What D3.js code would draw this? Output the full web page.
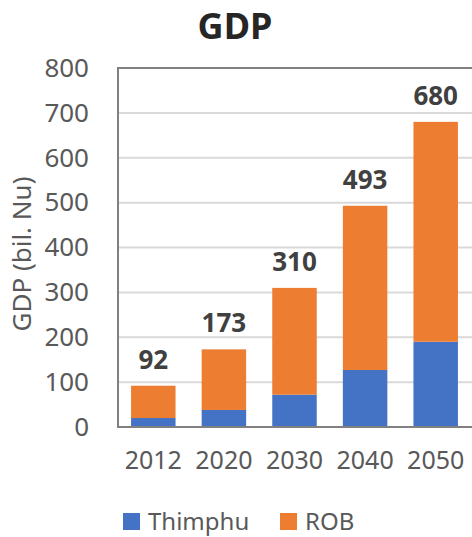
<!DOCTYPE html>
<html>
<head>
<meta charset="utf-8">
<script src="https://cdn.jsdelivr.net/npm/d3@7"></script>
<style>
  html, body { margin: 0; padding: 0; background: #fff; }
  svg { display: block; }
</style>
</head>
<body>
<svg id="chart" width="472" height="537"></svg>
<script>
// GDP by year, split into Thimphu and the rest of Bhutan (ROB), billions of Nu
const years = ["2012", "2020", "2030", "2040", "2050"];
const thimphu = [20, 38, 72, 127, 190];
const rob = [72, 135, 238, 366, 490];
const totals = [92, 173, 310, 493, 680];
const yTicks = [0, 100, 200, 300, 400, 500, 600, 700, 800];
const seriesNames = ["Thimphu", "ROB"];
const colors = ["#4472C4", "#ED7D31"];

const svg = d3.select("#chart");
const font = "'Noto Sans', 'Open Sans', sans-serif";

const plot = { left: 118, right: 471, top: 68, bottom: 427 };

const x = d3.scaleBand()
  .domain(years)
  .range([plot.left, plot.right])
  .paddingInner(0.37)
  .paddingOuter(0.185);

const y = d3.scaleLinear()
  .domain([0, 800])
  .range([plot.bottom, plot.top]);

// gridlines
svg.append("g")
  .selectAll("line")
  .data(yTicks.filter(t => t > 0 && t < 800))
  .join("line")
  .attr("x1", plot.left)
  .attr("x2", plot.right + 2)
  .attr("y1", d => y(d))
  .attr("y2", d => y(d))
  .attr("stroke", "#d9d9d9")
  .attr("stroke-width", 2);

// stacked bars
const rows = years.map((yr, i) => ({ year: yr, Thimphu: thimphu[i], ROB: rob[i] }));
const stack = d3.stack().keys(seriesNames)(rows);

svg.append("g")
  .selectAll("g")
  .data(stack)
  .join("g")
  .attr("fill", (d, i) => colors[i])
  .selectAll("rect")
  .data(d => d)
  .join("rect")
  .attr("x", d => x(d.data.year))
  .attr("width", x.bandwidth())
  .attr("y", d => y(d[1]))
  .attr("height", d => y(d[0]) - y(d[1]));

// frame (left, top, bottom)
svg.append("path")
  .attr("d", `M${plot.right + 3},${plot.top} H${plot.left} V${plot.bottom} H${plot.right + 3}`)
  .attr("fill", "none")
  .attr("stroke", "#808080")
  .attr("stroke-width", 2);

// total value labels
svg.append("g")
  .selectAll("text")
  .data(years)
  .join("text")
  .attr("x", d => x(d) + x.bandwidth() / 2)
  .attr("y", (d, i) => y(totals[i]) - 17)
  .attr("text-anchor", "middle")
  .attr("font-family", font)
  .attr("font-weight", "bold")
  .attr("font-size", 26)
  .attr("fill", "#404040")
  .text((d, i) => totals[i]);

// y axis
const yAxis = svg.append("g")
  .attr("transform", `translate(${plot.left},0)`)
  .call(d3.axisLeft(y).tickValues(yTicks).tickSize(0).tickPadding(29));
yAxis.select(".domain").remove();
yAxis.selectAll("text")
  .attr("font-family", font)
  .attr("font-size", 26)
  .attr("fill", "#595959");

// x axis
const xAxis = svg.append("g")
  .attr("transform", `translate(0,${plot.bottom})`)
  .call(d3.axisBottom(x).tickSize(0).tickPadding(24));
xAxis.select(".domain").remove();
xAxis.selectAll("text")
  .attr("font-family", font)
  .attr("font-size", 25)
  .attr("fill", "#595959");

// title
svg.append("text")
  .attr("x", 235)
  .attr("y", 39)
  .attr("text-anchor", "middle")
  .attr("font-family", font)
  .attr("font-weight", "bold")
  .attr("font-size", 36)
  .attr("fill", "#262626")
  .text("GDP");

// y axis title
svg.append("text")
  .attr("transform", `translate(31,254) rotate(-90)`)
  .attr("text-anchor", "middle")
  .attr("font-family", font)
  .attr("font-size", 26)
  .attr("fill", "#595959")
  .text("GDP (bil. Nu)");

// legend
const legendX = [123, 280];
const legend = svg.append("g")
  .selectAll("g")
  .data(seriesNames)
  .join("g")
  .attr("transform", (d, i) => `translate(${legendX[i]},513)`);
legend.append("rect")
  .attr("width", 17)
  .attr("height", 17)
  .attr("fill", (d, i) => colors[i]);
legend.append("text")
  .attr("x", 25)
  .attr("y", 17)
  .attr("font-family", font)
  .attr("font-size", 24)
  .attr("fill", "#595959")
  .text(d => d);
</script>
</body>
</html>
